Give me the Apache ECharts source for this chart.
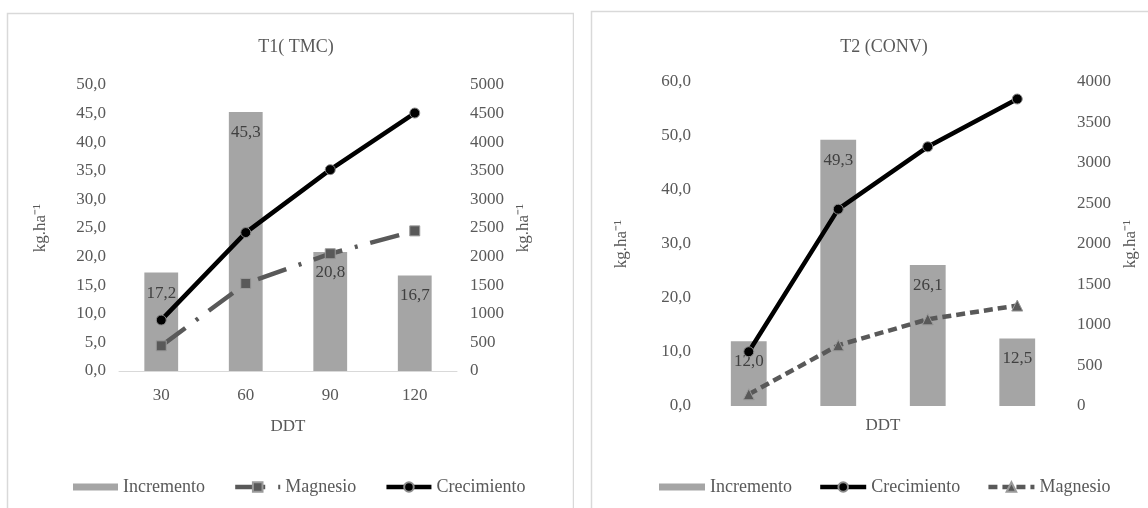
<!DOCTYPE html>
<html>
<head>
<meta charset="utf-8">
<script src="https://cdn.jsdelivr.net/npm/echarts@6/dist/echarts.min.js"></script>
<style>
  html, body { margin: 0; padding: 0; background: #ffffff; }
  #wrap { position: relative; width: 1148px; height: 508px; }
  #t1, #t2 { position: absolute; top: 0; width: 574px; height: 508px; }
  #t1 { left: 0; }
  #t2 { left: 574px; }
</style>
</head>
<body>
<div id="wrap"><div id="t1"></div><div id="t2"></div></div>
<script>
// Days after transplant (DDT)
const days = ['30', '60', '90', '120'];

// T1 (TMC)
const t1Incremento = [17.2, 45.3, 20.8, 16.7];
const t1Magnesio = [440, 1530, 2050, 2450];
const t1Crecimiento = [890, 2420, 3520, 4510];

// T2 (CONV)
const t2Incremento = [12.0, 49.3, 26.1, 12.5];
const t2Crecimiento = [670, 2430, 3200, 3790];
const t2Magnesio = [145, 750, 1070, 1240];

const titles = ['T1( TMC)', 'T2 (CONV)'];
const unit = 'kg.ha\u207B\u00B9';
const xName = 'DDT';

const FONT = 'Liberation Serif';
const TXT = '#595959';
const BAR = '#a5a5a5';
const comma1 = v => Number(v).toFixed(1).replace('.', ',');
const plain = v => String(v);

// flat bar swatch for the legend
const barIcon = 'path://M0,0H45V7H0Z';

function panelBorder(x, y, w, h) {
  return {
    type: 'rect', silent: true, z: -1,
    shape: { x: x, y: y, width: w, height: h },
    style: { fill: 'none', stroke: '#d9d9d9', lineWidth: 1.5 }
  };
}

function barSeries(data) {
  return {
    name: 'Incremento', type: 'bar', data: data, barWidth: '40%',
    xAxisIndex: 0, yAxisIndex: 0, z: 1,
    itemStyle: { color: BAR },
    label: {
      show: true, position: 'insideTop', distance: 12,
      color: '#404040', fontFamily: FONT, fontSize: 17,
      formatter: p => comma1(p.value)
    }
  };
}

function crecSeries(data) {
  return {
    name: 'Crecimiento', type: 'line', data: data, yAxisIndex: 1, z: 4,
    symbol: 'circle', symbolSize: 10,
    lineStyle: { color: '#000000', width: 4.5 },
    itemStyle: { color: '#000000', borderColor: '#8c8c8c', borderWidth: 1 }
  };
}

function legendOf(left, gap, width, names) {
  return {
    left: left, top: 473, itemWidth: width, itemHeight: 12, itemGap: gap,
    symbolKeepAspect: true,
    lineStyle: { width: 4.5 },
    textStyle: { fontFamily: FONT, fontSize: 18, color: TXT },
    data: names.map(n => n === 'Incremento' ? { name: n, icon: barIcon } : n)
  };
}

// ---- T1 (TMC) ----
const c1 = echarts.init(document.getElementById('t1'), null, { renderer: 'canvas' });
c1.setOption({
  animation: false,
  textStyle: { fontFamily: FONT },
  graphic: [panelBorder(7.5, 13.5, 566, 520)],
  title: {
    text: titles[0], left: 291, top: 33, textAlign: 'center',
    textStyle: { fontFamily: FONT, fontSize: 18, fontWeight: 'normal', color: TXT }
  },
  legend: legendOf(68, 28, 45, ['Incremento', 'Magnesio', 'Crecimiento']),
  grid: { left: 119, top: 85, width: 338, height: 286, containLabel: false },
  xAxis: {
    type: 'category', data: days,
    name: xName, nameLocation: 'middle', nameGap: 47,
    nameTextStyle: { fontFamily: FONT, fontSize: 17, color: TXT },
    axisLine: { lineStyle: { color: '#d9d9d9', width: 1 } },
    axisTick: { show: false },
    axisLabel: { margin: 16, fontFamily: FONT, fontSize: 17, color: TXT }
  },
  yAxis: [
    {
      type: 'value', min: 0, max: 50, interval: 5,
      name: unit, nameLocation: 'middle', nameRotate: 90, nameGap: 70,
      nameTextStyle: { fontFamily: FONT, fontSize: 17, color: TXT },
      splitLine: { show: false }, axisLine: { show: false }, axisTick: { show: false },
      axisLabel: { margin: 13, fontFamily: FONT, fontSize: 17, color: TXT, formatter: comma1 }
    },
    {
      type: 'value', min: 0, max: 5000, interval: 500, position: 'right',
      name: unit, nameLocation: 'middle', nameRotate: 90, nameGap: 54,
      nameTextStyle: { fontFamily: FONT, fontSize: 17, color: TXT },
      splitLine: { show: false }, axisLine: { show: false }, axisTick: { show: false },
      axisLabel: { margin: 13, fontFamily: FONT, fontSize: 17, color: TXT, formatter: plain }
    }
  ],
  series: [
    barSeries(t1Incremento),
    {
      name: 'Magnesio', type: 'line', data: t1Magnesio, yAxisIndex: 1, z: 3,
      symbol: 'rect', symbolSize: 10,
      lineStyle: { color: '#595959', width: 4.5, type: [30, 13, 3, 13] },
      itemStyle: { color: '#595959', borderColor: '#9a9a9a', borderWidth: 1 }
    },
    crecSeries(t1Crecimiento)
  ]
});

// ---- T2 (CONV) ----
const c2 = echarts.init(document.getElementById('t2'), null, { renderer: 'canvas' });
c2.setOption({
  animation: false,
  textStyle: { fontFamily: FONT },
  graphic: [panelBorder(17.5, 11.5, 600, 520)],
  title: {
    text: titles[1], left: 305, top: 33, textAlign: 'center',
    textStyle: { fontFamily: FONT, fontSize: 18, fontWeight: 'normal', color: TXT }
  },
  legend: legendOf(80, 26, 46, ['Incremento', 'Crecimiento', 'Magnesio']),
  grid: { left: 130, top: 82, width: 358, height: 324, containLabel: false },
  xAxis: {
    type: 'category', data: days,
    name: xName, nameLocation: 'middle', nameGap: 11,
    nameTextStyle: { fontFamily: FONT, fontSize: 17, color: TXT },
    axisLine: { show: false }, axisTick: { show: false }, axisLabel: { show: false }
  },
  yAxis: [
    {
      type: 'value', min: 0, max: 60, interval: 10,
      name: unit, nameLocation: 'middle', nameRotate: 90, nameGap: 74,
      nameTextStyle: { fontFamily: FONT, fontSize: 17, color: TXT },
      splitLine: { show: false }, axisLine: { show: false }, axisTick: { show: false },
      axisLabel: { margin: 13, fontFamily: FONT, fontSize: 17, color: TXT, formatter: comma1 }
    },
    {
      type: 'value', min: 0, max: 4000, interval: 500, position: 'right',
      name: unit, nameLocation: 'middle', nameRotate: 90, nameGap: 56,
      nameTextStyle: { fontFamily: FONT, fontSize: 17, color: TXT },
      splitLine: { show: false }, axisLine: { show: false }, axisTick: { show: false },
      axisLabel: { margin: 15, fontFamily: FONT, fontSize: 17, color: TXT, formatter: plain }
    }
  ],
  series: [
    barSeries(t2Incremento),
    crecSeries(t2Crecimiento),
    {
      name: 'Magnesio', type: 'line', data: t2Magnesio, yAxisIndex: 1, z: 3,
      symbol: 'triangle', symbolSize: 11,
      lineStyle: { color: '#595959', width: 4.5, type: [9, 5] },
      itemStyle: { color: '#595959', borderColor: '#9a9a9a', borderWidth: 1 }
    }
  ]
});
</script>
</body>
</html>
